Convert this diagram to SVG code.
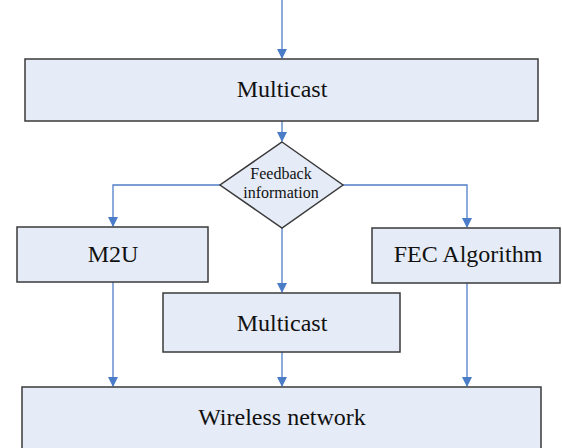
<svg xmlns="http://www.w3.org/2000/svg" width="562" height="448" viewBox="0 0 562 448">
<defs>
<style>
.box{fill:#E6ECF7;stroke:#3a3a3a;stroke-width:1.5}
.t{fill:#111;text-anchor:middle}
.c{fill:none;stroke:#4F7FC6;stroke-width:1.3}
</style>
<marker id="ah" markerWidth="10" markerHeight="10" refX="9" refY="5" orient="auto" markerUnits="userSpaceOnUse">
<path d="M0,0 L10,5 L0,10 z" fill="#4A7CC7"/>
</marker>
</defs>
<rect width="562" height="448" fill="#fff"/>
<g id="connectors">
<path class="c" d="M282,0 V58" marker-end="url(#ah)"/>
<path class="c" d="M282,121 V141" marker-end="url(#ah)"/>
<path class="c" d="M220,185 H113 V226" marker-end="url(#ah)"/>
<path class="c" d="M343,185 H467 V227" marker-end="url(#ah)"/>
<path class="c" d="M282,228 V292" marker-end="url(#ah)"/>
<path class="c" d="M113,282 V386" marker-end="url(#ah)"/>
<path class="c" d="M282,352 V386" marker-end="url(#ah)"/>
<path class="c" d="M467,283 V386" marker-end="url(#ah)"/>
</g>
<g font-family="'Liberation Serif', 'Times New Roman', serif">
<g id="multicast-top">
<rect class="box" x="25" y="59" width="513" height="62"/>
<text class="t" x="282" y="97" font-size="24">Multicast</text>
</g>
<g id="feedback">
<polygon class="box" points="282,142 343,185 282,228 220,185"/>
<text class="t" x="281" y="179" font-size="16">Feedback</text>
<text class="t" x="281" y="198" font-size="16">information</text>
</g>
<g id="m2u">
<rect class="box" x="17" y="227" width="191" height="55"/>
<text class="t" x="113" y="262" font-size="24">M2U</text>
</g>
<g id="fec">
<rect class="box" x="372" y="228" width="188" height="55"/>
<text class="t" x="468" y="262" font-size="24">FEC Algorithm</text>
</g>
<g id="multicast-mid">
<rect class="box" x="163" y="293" width="237" height="59"/>
<text class="t" x="282" y="331" font-size="24">Multicast</text>
</g>
<g id="wireless">
<rect class="box" x="22" y="387" width="519" height="70"/>
<text class="t" x="282" y="425" font-size="24">Wireless network</text>
</g>
</g>
</svg>
